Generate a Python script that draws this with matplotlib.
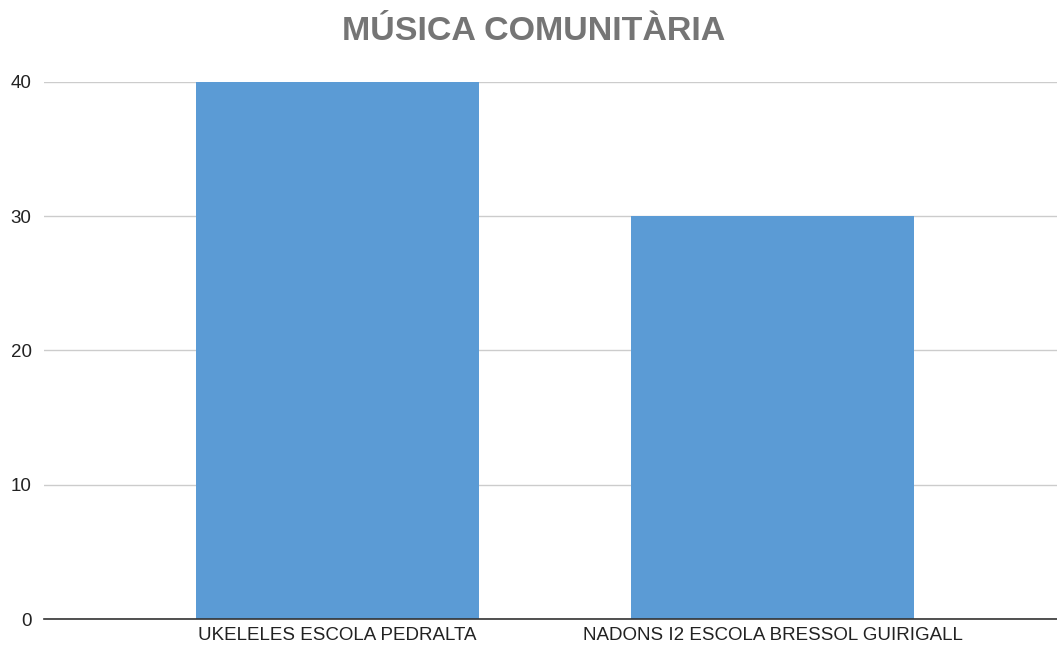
import matplotlib
matplotlib.use('Agg')
import matplotlib.pyplot as plt
import numpy as np

plt.rcParams['font.family'] = ['Liberation Sans', 'DejaVu Sans']

categories = ['UKELELES ESCOLA PEDRALTA', 'NADONS I2 ESCOLA BRESSOL GUIRIGALL']
values = [40, 30]
yticks = [0, 10, 20, 30, 40]

fig = plt.figure(figsize=(10.57, 6.46), dpi=100)
ax = fig.add_axes([44 / 1057, 27 / 646, 1013 / 1057, (619 - 82) / 646])

x = np.arange(len(categories))
ax.bar(x, values, width=0.65, color='#5b9bd5', zorder=3)

ax.set_xlim(-0.675, 1.654)
ax.set_ylim(0, 40)
ax.set_yticks(yticks)
ax.set_xticks(x)
ax.set_xticklabels(categories)
ax.tick_params(axis='both', length=0, labelsize=13.5, colors='#222222')
ax.tick_params(axis='y', pad=9)
ax.tick_params(axis='x', pad=6)

ax.grid(axis='y', color='#cccccc', linewidth=1, zorder=0)
for s in ['top', 'right', 'left']:
    ax.spines[s].set_visible(False)
ax.spines['bottom'].set_color('#333333')
ax.spines['bottom'].set_linewidth(1.2)
ax.spines['bottom'].set_zorder(4)

fig.text(0.505, 1 - 31 / 646, 'MÚSICA COMUNITÀRIA', ha='center', va='center',
         fontsize=24.5, fontweight='bold', color='#757575')

fig.savefig('out.png', dpi=100)
